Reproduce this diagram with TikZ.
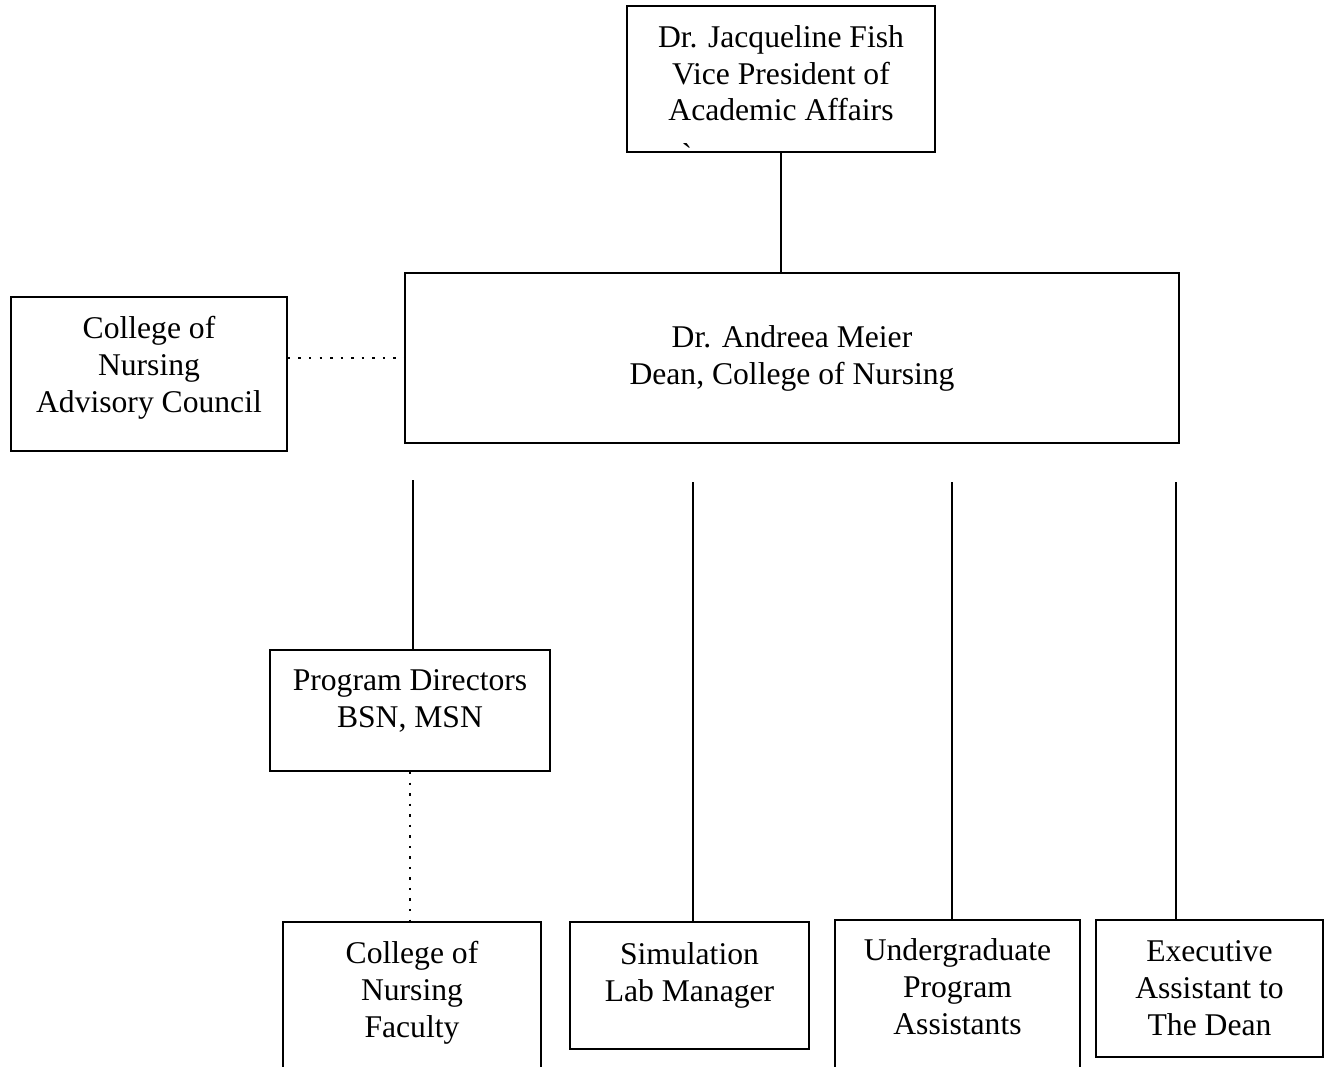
\documentclass[tikz,border=0pt]{standalone}
\usepackage{fontspec}
\setmainfont{Liberation Serif}
\usepackage{tikz}
\usetikzlibrary{positioning}

\begin{document}
\begin{tikzpicture}[
  x=0.02cm, y=-0.02cm,
  orgbox/.style={
    rectangle,
    draw,
    line width=1.1pt,
    align=center,
    inner sep=0pt,
    font=\fontsize{18}{21}\selectfont
  },
  link/.style={
    line width=1.3pt
  },
  dotlink/.style={
    line width=1.4pt,
    dash pattern=on 1.4pt off 4.6pt
  }
]

\useasboundingbox (0,0) rectangle (1325,1067);
\clip (0,0) rectangle (1325,1067);

% =========================================================
% Top: vice president and dean
% =========================================================
\node[orgbox, minimum width=6.16cm, minimum height=2.92cm] (vp) at (781, 79)
  {Dr. Jacqueline Fish\\Vice President of\\Academic Affairs\\[-14.3pt]};
\node[inner sep=0pt, anchor=base, font=\fontsize{18}{21}\selectfont] (tick) at (687, 166) {\textasciigrave};

\node[orgbox, minimum width=15.48cm, minimum height=3.40cm] (dean) at (792, 358)
  {Dr. Andreea Meier\\Dean, College of Nursing};

\node[orgbox, minimum width=5.52cm, minimum height=3.08cm] (adv) at (149, 374)
  {College of\\Nursing\\Advisory Council\\[-9.8pt]};

\draw[link] (vp.south) -- (vp.south |- dean.north);
\draw[dotlink] (adv.east |- dean.west) -- (dean.west);

% =========================================================
% Staff under the dean
% =========================================================
\node[orgbox, minimum width=5.60cm, minimum height=2.42cm] (pd) at (410, 710.5)
  {Program Directors\\BSN, MSN\\[-7.5pt]};

\node[orgbox, minimum width=5.16cm, minimum height=4cm] (fac) at (412, 1022)
  {College of\\Nursing\\Faculty\\[16.3pt]};

\node[orgbox, minimum width=4.78cm, minimum height=2.54cm] (sim) at (689.5, 985.5)
  {Simulation\\Lab Manager\\[-5.3pt]};

\node[orgbox, minimum width=4.90cm, minimum height=4cm] (ug) at (957.5, 1020)
  {Undergraduate\\Program\\Assistants\\[17.4pt]};

\node[orgbox, minimum width=4.54cm, minimum height=2.74cm] (exec) at (1209.5, 988.5)
  {Executive\\Assistant to\\The Dean};

\coordinate (d1) at (413, 480);
\coordinate (d2) at (693, 482);
\coordinate (d3) at (952, 482);
\coordinate (d4) at (1176, 482);

\draw[link] (d1) -- (d1 |- pd.north);
\draw[link] (d2) -- (d2 |- sim.north);
\draw[link] (d3) -- (d3 |- ug.north);
\draw[link] (d4) -- (d4 |- exec.north);

\draw[dotlink] (pd.south) -- (pd.south |- fac.north);

\end{tikzpicture}
\end{document}
